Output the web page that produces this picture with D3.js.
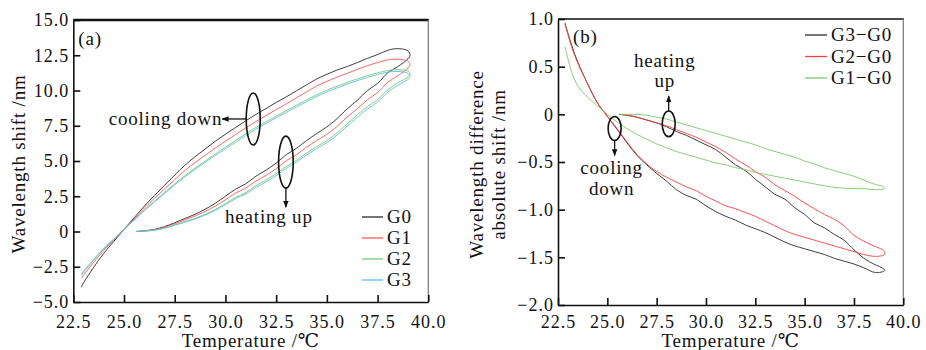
<!DOCTYPE html>
<html>
<head>
<meta charset="utf-8">
<script src="https://cdn.jsdelivr.net/npm/d3@7"></script>
<style>
  body { margin: 0; background: #fff; }
  text { font-family: "Liberation Serif", "DejaVu Serif", serif; fill: #111; }
</style>
</head>
<body>
<div id="chart"></div>
<script>
// temperature grids (heating goes up, cooling comes back down)
var heatTemps = [25.6, 26.0, 26.5, 27.0, 27.5, 28.0, 28.5, 29.0, 29.5, 30.0, 30.5, 31.0, 31.5, 32.0,
  32.5, 33.0, 33.5, 34.0, 34.5, 35.0, 35.5, 36.0, 36.5, 37.0, 37.5, 38.0, 38.5, 39.0];
var coolTempsA = [39.1, 39.0, 38.7, 38.3, 38.0, 37.5, 37.0, 36.5, 36.0, 35.5, 35.0, 34.5, 34.0, 33.5,
  33.0, 32.5, 32.0, 31.5, 31.0, 30.5, 30.0, 29.5, 29.0, 28.5, 28.0, 27.5, 27.0, 26.5, 26.0, 25.5,
  25.0, 24.5, 24.0, 23.5, 23.0, 22.9];
var coolTempsB = [39.05, 38.6, 38.0, 37.5, 37.0, 36.5, 36.0, 35.5, 35.0, 34.5, 34.0, 33.5, 33.0, 32.5,
  32.0, 31.5, 31.0, 30.5, 30.0, 29.5, 29.0, 28.5, 28.0, 27.5, 27.0, 26.5, 26.0, 25.5, 25.0, 24.5,
  24.0, 23.5, 23.2, 22.85];

// panel (a): wavelength shift /nm
var g0Heat = [0.00, 0.05, 0.15, 0.35, 0.62, 0.92, 1.22, 1.58, 2.00, 2.50, 3.00, 3.38, 3.92, 4.35,
  4.85, 5.45, 5.90, 6.45, 6.95, 7.42, 8.00, 8.70, 9.30, 10.00, 10.50, 11.25, 11.70, 12.25];
var g0Cool = [12.50, 12.80, 12.95, 12.95, 12.85, 12.55, 12.28, 11.98, 11.70, 11.45, 11.15, 10.82, 10.40,
  9.98, 9.55, 9.15, 8.72, 8.30, 7.85, 7.38, 6.90, 6.40, 5.85, 5.30, 4.70, 4.00, 3.28, 2.55, 1.80, 0.98,
  0.15, -0.70, -1.55, -2.55, -3.65, -3.95];
var g1Heat = [0.00, 0.04, 0.13, 0.30, 0.55, 0.82, 1.10, 1.42, 1.80, 2.25, 2.72, 3.08, 3.58, 3.98,
  4.45, 5.02, 5.45, 5.98, 6.45, 6.90, 7.45, 8.12, 8.70, 9.35, 9.85, 10.58, 11.05, 11.60];
var g1Cool = [11.88, 12.08, 12.20, 12.22, 12.17, 11.98, 11.76, 11.50, 11.22, 10.95, 10.65, 10.32, 9.90,
  9.48, 9.05, 8.65, 8.22, 7.80, 7.35, 6.88, 6.40, 5.92, 5.40, 4.88, 4.32, 3.68, 3.02, 2.35, 1.66, 0.90,
  0.15, -0.60, -1.35, -2.20, -3.10, -3.30];
var g2Heat = [0.00, 0.03, 0.10, 0.25, 0.47, 0.70, 0.93, 1.22, 1.56, 1.98, 2.42, 2.76, 3.25, 3.65,
  4.10, 4.62, 5.05, 5.56, 6.02, 6.45, 6.98, 7.65, 8.28, 8.85, 9.35, 10.05, 10.55, 10.95];
var g2Cool = [11.17, 11.38, 11.46, 11.47, 11.42, 11.25, 11.05, 10.82, 10.57, 10.30, 10.02, 9.70, 9.33,
  8.95, 8.57, 8.18, 7.78, 7.38, 6.93, 6.45, 5.98, 5.50, 5.00, 4.50, 3.96, 3.38, 2.77, 2.15, 1.52, 0.82,
  0.15, -0.55, -1.25, -2.05, -2.90, -3.08];
var g3Heat = [0.00, 0.03, 0.09, 0.23, 0.44, 0.66, 0.89, 1.17, 1.50, 1.90, 2.33, 2.66, 3.13, 3.52,
  3.96, 4.48, 4.92, 5.42, 5.88, 6.30, 6.83, 7.48, 8.10, 8.68, 9.18, 9.88, 10.38, 10.78];
var g3Cool = [10.98, 11.22, 11.33, 11.35, 11.30, 11.13, 10.93, 10.70, 10.45, 10.18, 9.90, 9.58, 9.21,
  8.83, 8.45, 8.06, 7.66, 7.26, 6.81, 6.33, 5.86, 5.39, 4.90, 4.40, 3.87, 3.30, 2.70, 2.09, 1.47, 0.80,
  0.15, -0.52, -1.20, -1.98, -2.82, -3.00];

// panel (b): wavelength difference absolute shift /nm
var d30Heat = [0.00, -0.01, -0.03, -0.06, -0.09, -0.13, -0.18, -0.22, -0.27, -0.32, -0.37, -0.45, -0.53,
  -0.59, -0.68, -0.76, -0.84, -0.89, -0.98, -1.05, -1.14, -1.19, -1.26, -1.32, -1.42, -1.51, -1.57, -1.62];
var d30Cool = [-1.64, -1.66, -1.61, -1.57, -1.54, -1.51, -1.47, -1.44, -1.41, -1.38, -1.34, -1.29, -1.24,
  -1.20, -1.16, -1.11, -1.07, -1.02, -0.96, -0.89, -0.85, -0.79, -0.70, -0.62, -0.53, -0.43, -0.30,
  -0.16, -0.02, 0.12, 0.32, 0.55, 0.72, 0.96];
var d20Heat = [0.00, -0.01, -0.03, -0.06, -0.09, -0.12, -0.16, -0.20, -0.24, -0.29, -0.34, -0.40, -0.47,
  -0.53, -0.60, -0.66, -0.74, -0.80, -0.86, -0.93, -0.99, -1.05, -1.10, -1.17, -1.27, -1.33, -1.38, -1.43];
var d20Cool = [-1.47, -1.49, -1.47, -1.44, -1.41, -1.38, -1.35, -1.32, -1.29, -1.26, -1.22, -1.17, -1.12,
  -1.07, -1.03, -0.99, -0.96, -0.91, -0.86, -0.80, -0.76, -0.71, -0.66, -0.60, -0.52, -0.42, -0.29,
  -0.15, -0.02, 0.12, 0.32, 0.54, 0.70, 0.95];
var d10Heat = [0.00, 0.00, 0.00, -0.01, -0.03, -0.05, -0.08, -0.11, -0.14, -0.17, -0.20, -0.23, -0.26,
  -0.29, -0.32, -0.36, -0.39, -0.42, -0.45, -0.49, -0.52, -0.56, -0.59, -0.62, -0.65, -0.69, -0.73, -0.76];
var d10Cool = [-0.78, -0.79, -0.78, -0.78, -0.775, -0.765, -0.75, -0.73, -0.71, -0.69, -0.67, -0.65, -0.63,
  -0.61, -0.58, -0.56, -0.53, -0.51, -0.48, -0.45, -0.42, -0.39, -0.35, -0.31, -0.26, -0.21, -0.15,
  -0.08, 0.00, 0.09, 0.18, 0.30, 0.44, 0.71];

var xTicks = [22.5, 25.0, 27.5, 30.0, 32.5, 35.0, 37.5, 40.0];
var yTicksA = [-5, -2.5, 0, 2.5, 5, 7.5, 10, 12.5, 15];
var yTicksB = [-2, -1.5, -1, -0.5, 0, 0.5, 1];
var namesA = ["G0", "G1", "G2", "G3"];
var namesB = ["G3\u2212G0", "G2\u2212G0", "G1\u2212G0"];

var W = 926, H = 350;
var FS = '19px', LS = '0.8px';
var svg = d3.select('#chart').append('svg')
  .attr('width', W).attr('height', H)
  .attr('viewBox', '0 0 ' + W + ' ' + H);
svg.append('rect').attr('width', W).attr('height', H).attr('fill', '#fff');

var defs = svg.append('defs');
defs.append('marker')
  .attr('id', 'arr')
  .attr('viewBox', '0 0 10 10')
  .attr('refX', 9).attr('refY', 5)
  .attr('markerWidth', 7).attr('markerHeight', 7)
  .attr('markerUnits', 'userSpaceOnUse')
  .attr('orient', 'auto')
  .append('path').attr('d', 'M0,1 L10,5 L0,9 Z').attr('fill', '#111');

function loop(heatV, coolT, coolV) {
  var pts = heatTemps.map(function (t, i) { return [t, heatV[i]]; });
  return pts.concat(coolT.map(function (t, i) { return [t, coolV[i]]; }));
}

function fmt(d) {
  return d === 0 ? '0' : d3.format('.1f')(d);
}

function label(sel) {
  return sel.attr('font-size', FS).attr('letter-spacing', LS);
}

function drawPanel(p) {
  var g = svg.append('g');
  var x = d3.scaleLinear().domain([22.5, 40]).range([p.left, p.right]);
  var y = d3.scaleLinear().domain(p.yDomain).range([p.bottom, p.top]);

  // frame: top and right
  g.append('line')
    .attr('x1', p.left).attr('x2', p.right + 0.5)
    .attr('y1', p.top).attr('y2', p.top)
    .attr('stroke', '#111').attr('stroke-width', p.topWidth);
  g.append('line')
    .attr('x1', p.right).attr('x2', p.right)
    .attr('y1', p.top).attr('y2', p.bottom)
    .attr('stroke', '#777').attr('stroke-width', 1.2);

  var gx = g.append('g')
    .attr('transform', 'translate(0,' + p.bottom + ')')
    .call(d3.axisBottom(x).tickValues(xTicks).tickFormat(d3.format('.1f'))
      .tickSizeInner(-7).tickSizeOuter(0).tickPadding(p.xPad));
  var gy = g.append('g')
    .attr('transform', 'translate(' + p.left + ',0)')
    .call(d3.axisLeft(y).tickValues(p.yTicks).tickFormat(fmt)
      .tickSizeInner(-7).tickSizeOuter(0).tickPadding(4));
  [gx, gy].forEach(function (a) {
    a.attr('font-family', null);
    a.select('.domain').attr('stroke', '#111').attr('stroke-width', 1.6);
    a.selectAll('.tick line').attr('stroke', '#111').attr('stroke-width', 1.6);
    a.selectAll('.tick text')
      .attr('font-size', '18px').attr('letter-spacing', '1px').attr('fill', '#111');
  });

  var line = d3.line()
    .x(function (d) { return x(d[0]); })
    .y(function (d) { return y(d[1]); })
    .curve(d3.curveCatmullRom.alpha(0.5));

  p.series.forEach(function (s) {
    g.append('path')
      .attr('d', line(s.pts))
      .attr('fill', 'none')
      .attr('stroke', s.color)
      .attr('stroke-width', 1)
      .attr('stroke-opacity', 0.9);
  });

  // panel letter
  label(g.append('text'))
    .attr('x', p.left + p.letterDx).attr('y', p.top + p.letterDy)
    .text(p.letter);

  // legend
  p.series.forEach(function (s, i) {
    var ly = p.legY + i * p.legStep;
    g.append('line')
      .attr('x1', p.legX).attr('x2', p.legX + p.legLen)
      .attr('y1', ly).attr('y2', ly)
      .attr('stroke', s.color).attr('stroke-width', 1.3);
    label(g.append('text'))
      .attr('x', p.legX + p.legLen + 4).attr('y', ly)
      .attr('dy', '0.34em')
      .text(s.name);
  });

  // annotations: ellipse + arrow + label
  p.notes.forEach(function (n) {
    var cx = x(n.t), cy = y(n.v);
    g.append('ellipse')
      .attr('cx', cx).attr('cy', cy).attr('rx', n.rx).attr('ry', n.ry)
      .attr('fill', 'none').attr('stroke', '#111').attr('stroke-width', 1.6);
    var a0, a1;
    if (n.dir === 'left') { a0 = [cx - n.rx, cy]; a1 = [cx - n.rx - n.len, cy]; }
    else if (n.dir === 'down') { a0 = [cx, cy + n.ry]; a1 = [cx, cy + n.ry + n.len]; }
    else { a0 = [cx, cy - n.ry]; a1 = [cx, cy - n.ry - n.len]; }
    g.append('line')
      .attr('x1', a0[0]).attr('y1', a0[1]).attr('x2', a1[0]).attr('y2', a1[1])
      .attr('stroke', '#111').attr('stroke-width', 1.3)
      .attr('marker-end', 'url(#arr)');
    n.lines.forEach(function (txt, k) {
      label(g.append('text'))
        .attr('x', cx + n.tx).attr('y', cy + n.ty + k * 20.5)
        .attr('text-anchor', n.anchor)
        .text(txt);
    });
  });

  // axis titles
  label(g.append('text'))
    .attr('x', (p.left + p.right) / 2).attr('y', 347)
    .attr('text-anchor', 'middle')
    .text('Temperature /\u2103');
  p.yTitle.forEach(function (txt, k) {
    label(g.append('text'))
      .attr('transform', 'translate(' + p.yTitleX[k] + ',' + p.yTitleY + ') rotate(-90)')
      .attr('text-anchor', 'middle')
      .text(txt);
  });
}

var colA = ['#2a2a2a', '#ff5555', '#78c878', '#5cbcec'];
var colB = ['#2a2a2a', '#ff3d3d', '#7cc86c'];

drawPanel({
  left: 73.3, right: 428.3, top: 20, bottom: 302,
  topWidth: 2.6, xPad: 13,
  yDomain: [-5, 15], yTicks: yTicksA,
  letter: '(a)', letterDx: 5, letterDy: 25,
  legX: 362, legY: 217, legStep: 21, legLen: 21,
  yTitle: ['Wavelength shift /nm'], yTitleX: [25], yTitleY: 164,
  series: [
    { name: namesA[0], color: colA[0], pts: loop(g0Heat, coolTempsA, g0Cool) },
    { name: namesA[1], color: colA[1], pts: loop(g1Heat, coolTempsA, g1Cool) },
    { name: namesA[2], color: colA[2], pts: loop(g2Heat, coolTempsA, g2Cool) },
    { name: namesA[3], color: colA[3], pts: loop(g3Heat, coolTempsA, g3Cool) }
  ],
  notes: [
    { t: 31.37, v: 7.98, rx: 7, ry: 26, dir: 'left', len: 24, lines: ['cooling down'],
      tx: -31, ty: 6, anchor: 'end' },
    { t: 32.98, v: 4.92, rx: 7.3, ry: 26, dir: 'down', len: 19, lines: ['heating up'],
      tx: -17, ty: 60.5, anchor: 'middle' }
  ]
});

drawPanel({
  left: 558, right: 903.3, top: 19, bottom: 305,
  topWidth: 1.6, xPad: 10,
  yDomain: [-2, 1], yTicks: yTicksB,
  letter: '(b)', letterDx: 15, letterDy: 24,
  legX: 805, legY: 35, legStep: 21.5, legLen: 22,
  yTitle: ['Wavelength difference', 'absolute shift /nm'], yTitleX: [483, 505], yTitleY: 164.5,
  series: [
    { name: namesB[0], color: colB[0], pts: loop(d30Heat, coolTempsB, d30Cool) },
    { name: namesB[1], color: colB[1], pts: loop(d20Heat, coolTempsB, d20Cool) },
    { name: namesB[2], color: colB[2], pts: loop(d10Heat, coolTempsB, d10Cool) }
  ],
  notes: [
    { t: 25.37, v: -0.148, rx: 6.5, ry: 12, dir: 'down', len: 15, lines: ['cooling', 'down'],
      tx: -3, ty: 46, anchor: 'middle' },
    { t: 28.11, v: -0.10, rx: 6.5, ry: 12.8, dir: 'up', len: 15, lines: ['heating', 'up'],
      tx: -4, ty: -57, anchor: 'middle' }
  ]
});
</script>
</body>
</html>
